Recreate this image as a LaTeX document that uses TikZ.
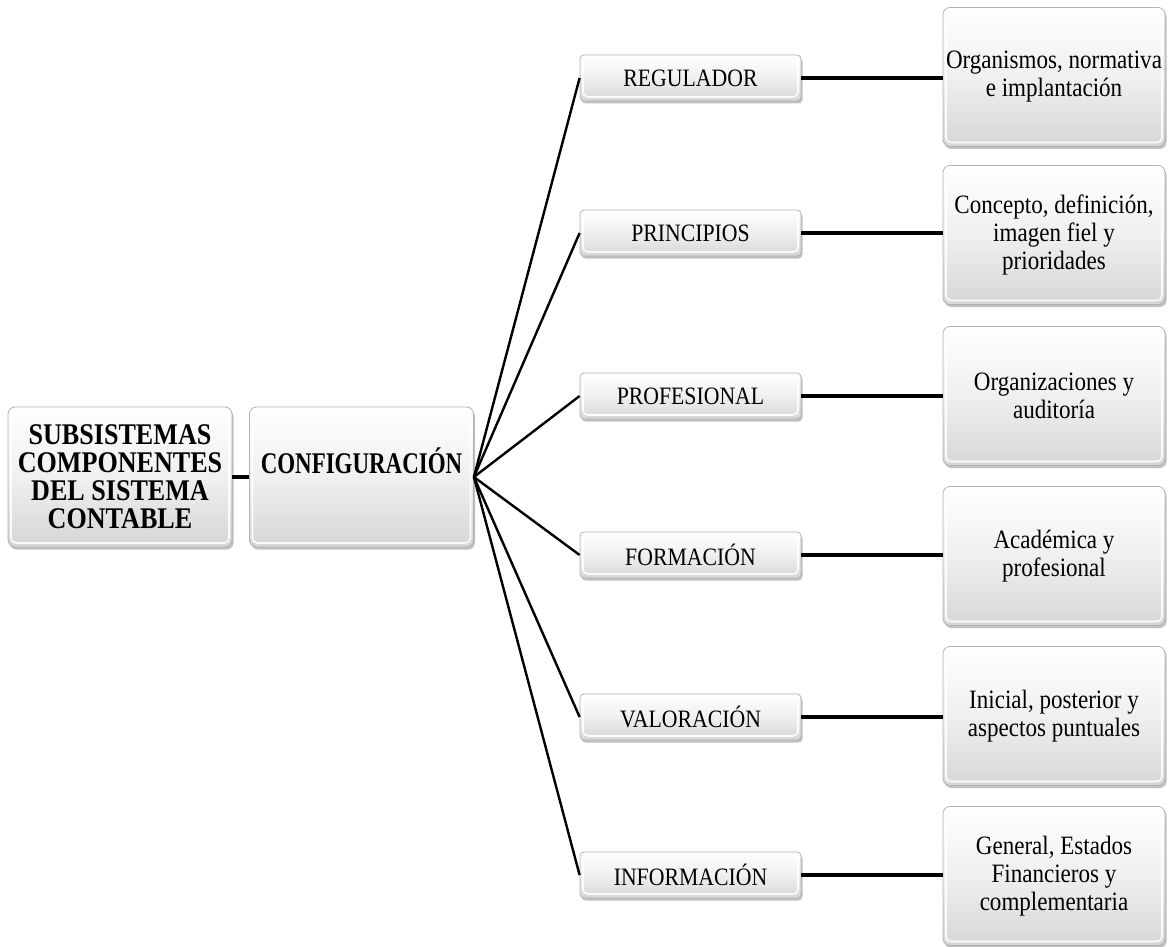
\documentclass[tikz,border=0pt]{standalone}
\usepackage{fontspec}
\setmainfont{Liberation Serif}[FakeStretch=0.87]
\newfontfamily\condensedserif{Liberation Serif}[FakeStretch=0.765]
\usetikzlibrary{shadows}

\tikzset{
  panel/.style={rounded corners=7pt, draw=black!30, line width=0.8pt,
    top color=white, bottom color=black!16, middle color=black!6,
    inner sep=0pt, align=center,
    drop shadow={shadow xshift=1.5pt, shadow yshift=-2.5pt, fill=black!55, opacity=0.45},
    path picture={
      \draw[white, line width=1.6pt, rounded corners=5pt, opacity=0.9]
        ([shift={(3pt,-3pt)}]path picture bounding box.north west) rectangle
        ([shift={(-3pt,4pt)}]path picture bounding box.south east);
    }},
  headbox/.style={panel, minimum width=224pt, minimum height=140pt,
    font=\fontsize{30}{28}\selectfont\bfseries},
  itembox/.style={panel, rounded corners=4pt, minimum width=221pt, minimum height=46pt,
    font=\fontsize{25}{28}\selectfont},
  detailbox/.style={panel, minimum width=222pt, minimum height=139pt,
    font=\fontsize{26.5}{28}\selectfont},
  link/.style={line width=3.3pt, black},
  fan/.style={line width=2.4pt, black},
}

\begin{document}
\begin{tikzpicture}[x=1pt, y=-1pt]
\useasboundingbox (0,0) rectangle (1176,947);

% root and configuration
\node[headbox] (sub) at (120,477) {SUBSISTEMAS\\COMPONENTES\\DEL SISTEMA\\CONTABLE};
\node[headbox] (conf) at (361.5,477) {};
\node[inner sep=0pt, font=\condensedserif\fontsize{30}{28}\selectfont\bfseries] (conftxt) at (361.5,461) {CONFIGURACIÓN};

% second level
\node[itembox] (m1) at (690.5,78)  {REGULADOR};
\node[itembox] (m2) at (690.5,233) {PRINCIPIOS};
\node[itembox] (m3) at (690.5,396) {PROFESIONAL};
\node[itembox] (m4) at (690.5,555) {FORMACIÓN};
\node[itembox] (m5) at (690.5,717) {VALORACIÓN};
\node[itembox] (m6) at (690.5,875) {INFORMACIÓN};

% third level
\node[detailbox] (d1) at (1054,77)  {Organismos, normativa\\e implantación};
\node[detailbox] (d2) at (1054,235) {Concepto, definición,\\imagen fiel y\\prioridades};
\node[detailbox] (d3) at (1054,396) {Organizaciones y\\auditoría};
\node[detailbox] (d4) at (1054,556) {Académica y\\profesional};
\node[detailbox] (d5) at (1054,716) {Inicial, posterior y\\aspectos puntuales};
\node[detailbox] (d6) at (1054,876) {General, Estados\\Financieros y\\complementaria};

% connectors
\draw[link] (sub.east) -- (conf.west);
\foreach \m in {m1,m2,m3,m4,m5,m6}
  \draw[fan] (conf.east) -- (\m.west);
\foreach \m/\d in {m1/d1,m2/d2,m3/d3,m4/d4,m5/d5,m6/d6}
  \draw[link] (\m.east) -- (\m.east -| \d.west);
\end{tikzpicture}
\end{document}
